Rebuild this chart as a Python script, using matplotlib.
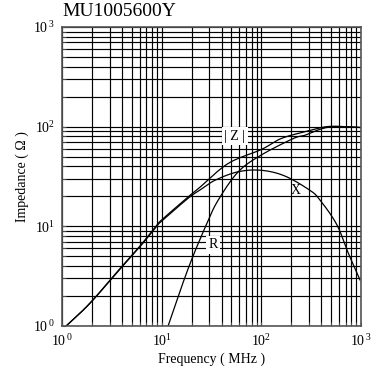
import matplotlib
matplotlib.use('Agg')
import matplotlib.pyplot as plt
import numpy as np
from matplotlib.ticker import LogLocator, FixedLocator, NullFormatter

plt.rcParams['font.family'] = ['Liberation Serif', 'DejaVu Serif']
plt.rcParams['mathtext.fontset'] = 'custom'
plt.rcParams['mathtext.rm'] = 'Liberation Serif'
plt.rcParams['mathtext.it'] = 'Liberation Serif'

# values (MHz, Ohm)
freq_z = [1.1, 1.9, 3.8, 6.1, 8.9, 10, 18.5, 24, 46.6, 100, 158, 274, 452, 700, 1000]
imp_z = [1.0, 1.69, 3.75, 6.4, 10.2, 11.6, 19.8, 24.5, 42.8, 59, 76, 89, 100, 100, 98]

freq_x = [1.1, 1.9, 3.8, 6.1, 8.9, 10, 18.5, 24, 34.3, 58.7, 100, 172, 307, 387, 569, 745, 977]
imp_x = [1.0, 1.68, 3.7, 6.3, 10.0, 11.3, 19.2, 23, 29, 35.3, 36.5, 32, 23, 18.4, 10.5, 5.4, 2.9]

freq_r = [11.6, 18.5, 28.3, 37, 58.7, 100, 209, 274, 387, 500, 700, 1000]
imp_r = [1.0, 3.8, 10.6, 18.4, 35.3, 52, 76, 82, 94, 99.5, 100, 98]

decades = [1, 10, 100, 1000]
dec_labels = [r'$10^{\,0}$', r'$10^{1}$', r'$10^{2}$', r'$10^{\,3}$']


def smooth_loglog(f, v, n=20):
    # catmull-rom through the read points, in log space
    p = np.column_stack([np.log10(f), np.log10(v)])
    p = np.vstack([2 * p[0] - p[1], p, 2 * p[-1] - p[-2]])
    t = np.linspace(0, 1, n, endpoint=False)[:, None]
    out = []
    for i in range(1, len(p) - 2):
        p0, p1, p2, p3 = p[i - 1], p[i], p[i + 1], p[i + 2]
        out.append(0.5 * (2 * p1 + (-p0 + p2) * t
                          + (2 * p0 - 5 * p1 + 4 * p2 - p3) * t ** 2
                          + (-p0 + 3 * p1 - 3 * p2 + p3) * t ** 3))
    out.append(p[-2][None, :])
    out = np.vstack(out)
    return 10 ** out[:, 0], 10 ** out[:, 1]


fig = plt.figure(figsize=(3.75, 3.75), dpi=100)
ax = fig.add_axes([62 / 375, 49 / 375, 299 / 375, 299 / 375])

ax.set_xscale('log')
ax.set_yscale('log')
ax.set_xlim(1, 1000)
ax.set_ylim(1, 1000)

ax.xaxis.set_major_locator(FixedLocator(decades))
ax.yaxis.set_major_locator(FixedLocator(decades))
ax.xaxis.set_minor_locator(LogLocator(base=10, subs=range(2, 10)))
ax.yaxis.set_minor_locator(LogLocator(base=10, subs=range(2, 10)))
ax.xaxis.set_minor_formatter(NullFormatter())
ax.yaxis.set_minor_formatter(NullFormatter())
ax.set_xticklabels(dec_labels)
ax.set_yticklabels(dec_labels)

ax.grid(True, which='both', color='black', linewidth=0.85)
ax.tick_params(which='both', direction='in', length=3, color='#555555',
               labelsize=10, pad=5)
for sp in ax.spines.values():
    sp.set_color('#555555')
    sp.set_linewidth(1.2)

for f, v in [(freq_z, imp_z), (freq_x, imp_x), (freq_r, imp_r)]:
    xs, ys = smooth_loglog(f, v)
    ax.plot(xs, ys, color='black', linewidth=0.9)

box = dict(facecolor='white', edgecolor='none', pad=1.5)
ax.text(54.4, 80.5, '| Z |', fontsize=10, ha='center', va='center', bbox=box)
ax.text(222, 23.1, 'X', fontsize=10, ha='center', va='center')
ax.text(32.7, 6.5, 'R', fontsize=10, ha='center', va='center', bbox=box)

ax.set_xlabel('Frequency ( MHz )', fontsize=10, labelpad=3)
ax.set_ylabel('Impedance ( \u03a9 )', fontsize=10, labelpad=3)
fig.text(62 / 375, 1 - 12 / 375, 'MU1005600Y', fontsize=14, ha='left', va='center')

fig.savefig('out.png', dpi=100)
